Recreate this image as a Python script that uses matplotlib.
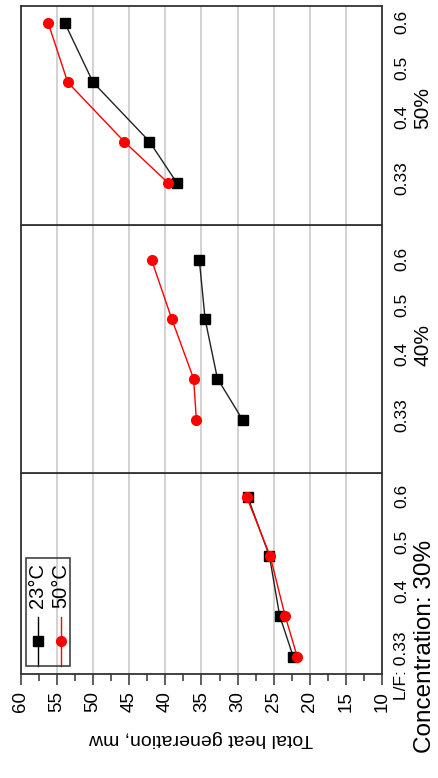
import matplotlib
matplotlib.use("Agg")
import matplotlib.pyplot as plt
from matplotlib.patches import Rectangle
from matplotlib.lines import Line2D
import matplotlib.transforms as mtransforms
from matplotlib.ticker import MultipleLocator

plt.rcParams["font.family"] = ["Liberation Sans", "DejaVu Sans"]

# L/F ratios (vertical axis of every panel)
lf_ratio = [0.33, 0.4, 0.5, 0.6]
lf_labels = ["0.33", "0.4", "0.5", "0.6"]
concentrations = ["30%", "40%", "50%"]
series_labels = ["23°C", "50°C"]

# Total heat generation, mW, per concentration and temperature
heat_23_c30 = [22.3, 24.2, 25.6, 28.6]
heat_50_c30 = [21.75, 23.45, 25.5, 28.75]
heat_23_c40 = [29.3, 32.8, 34.5, 35.3]
heat_50_c40 = [35.7, 36.1, 39.1, 41.9]
heat_23_c50 = [38.4, 42.2, 50.0, 53.9]
heat_50_c50 = [39.6, 45.7, 53.5, 56.2]

W, H = 439, 778
fig = plt.figure(figsize=(W / 100, H / 100), dpi=100)


def fx(x):
    return x / W


def fy(y):
    return 1 - y / H


def px_rect(left, top, right, bottom):
    return [left / W, 1 - bottom / H, (right - left) / W, (bottom - top) / H]


# panel geometry (pixels) and L/F range of each panel
panels = [
    ("30%", (20.7, 473, 382.3, 674), (0.3013, 0.6405), heat_23_c30, heat_50_c30),
    ("40%", (20.7, 225, 382.3, 473), (0.2406, 0.659), heat_23_c40, heat_50_c40),
    ("50%", (20.7, 6, 382.3, 225), (0.2591, 0.6287), heat_23_c50, heat_50_c50),
]

label_pos = [0.339, 0.441, 0.524, 0.601]
edge = "#333333"

for name, rect, ylim, h23, h50 in panels:
    ax = fig.add_axes(px_rect(*rect))
    ax.set_xlim(60, 10)
    ax.set_ylim(*ylim)
    ax.set_yticks([])
    ax.xaxis.set_major_locator(MultipleLocator(5))
    ax.xaxis.set_minor_locator(MultipleLocator(2.5))
    ax.grid(axis="x", which="major", color="#cfcfcf", lw=1.3, zorder=0)
    ax.set_axisbelow(True)
    for sp in ax.spines.values():
        sp.set_color(edge)
        sp.set_linewidth(1.3)

    ax.plot(h23, lf_ratio, color="#222222", lw=1.0, marker="s", ms=7,
            mfc="black", mec="black", zorder=3)
    ax.plot(h50, lf_ratio, color="red", lw=1.0, marker="o", ms=7,
            mfc="red", mec="red", zorder=4)

    trans = mtransforms.blended_transform_factory(ax.transAxes, ax.transData)
    for yp, lab in zip(label_pos, lf_labels):
        if name == "30%" and lab == "0.33":
            continue
        ax.text(1.0545, yp, lab, rotation=90, ha="center", va="center",
                fontsize=12.5, transform=trans)

    if name == "30%":
        ax.tick_params(axis="x", which="major", direction="out", length=8,
                       width=1.1, color=edge, labelsize=13.5, labelrotation=90,
                       pad=4)
        ax.tick_params(axis="x", which="minor", direction="out", length=5,
                       width=1.1, color=edge)
    else:
        ax.tick_params(axis="x", which="both", length=0, labelbottom=False)
        ax.text(1.112, 0.457, name, rotation=90, ha="center", va="center",
                fontsize=15, transform=trans)

# bottom panel: first L/F label and the concentration caption
fig.text(fx(402), fy(666), "L/F: 0.33", rotation=90, ha="center",
         va="center", fontsize=12.5)
fig.text(fx(425), fy(540), "Concentration: 30%", rotation=90, ha="center",
         va="top", fontsize=17.5)

fig.text(fx(201), fy(739), "Total heat generation, mw", rotation=180,
         ha="center", va="center", fontsize=14)

# legend box, drawn in figure pixels
fig.patches.append(Rectangle((fx(26), fy(666)), fx(70) - fx(26), fy(558) - fy(666),
                             transform=fig.transFigure, fill=False,
                             edgecolor=edge, lw=1.1, zorder=5))
for x, col, mk, lab in [(38, "black", "s", series_labels[0]),
                        (61, "red", "o", series_labels[1])]:
    fig.lines.append(Line2D([fx(x), fx(x)], [fy(617), fy(666)],
                            transform=fig.transFigure, color=col, lw=1.0))
    fig.lines.append(Line2D([fx(x)], [fy(641)], transform=fig.transFigure,
                            marker=mk, ms=7, color=col, ls="none"))
    fig.text(fx(x), fy(586), lab, rotation=90, ha="center", va="center",
             fontsize=14.5)

fig.savefig("out.png", dpi=100)
